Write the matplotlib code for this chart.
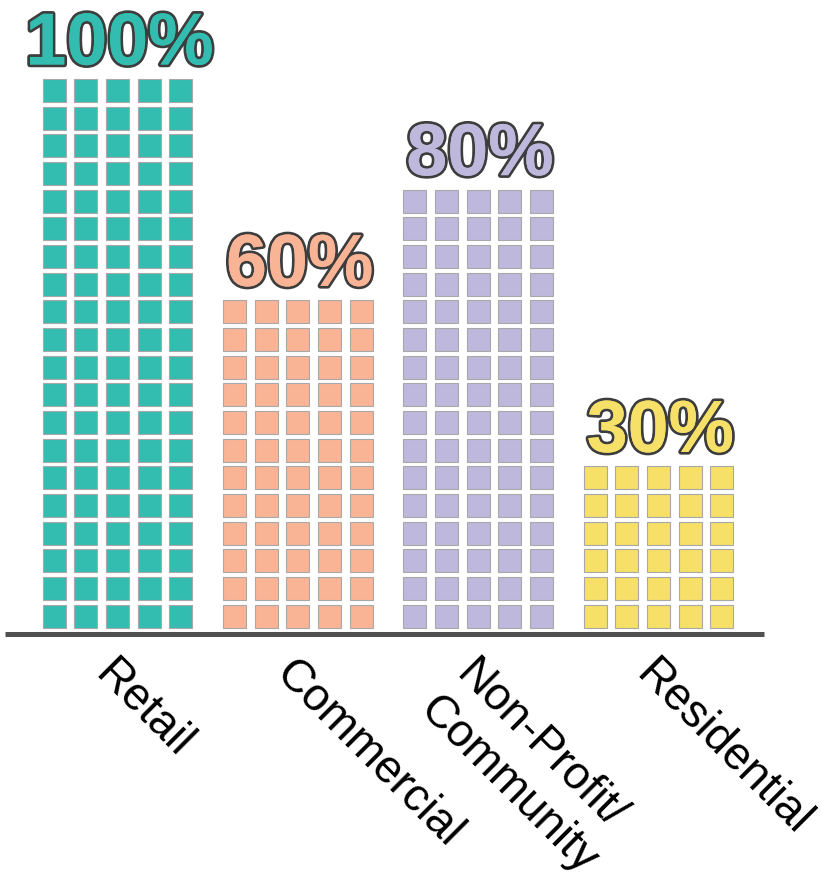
import matplotlib
matplotlib.use("Agg")
import matplotlib.pyplot as plt
import matplotlib.patheffects as pe

# ---- data ----
categories = ["Retail", "Commercial", "Non-Profit/\nCommunity", "Residential"]
percents = [100, 60, 80, 30]
pct_labels = ["100%", "60%", "80%", "30%"]
colors = ["#33BDB0", "#F9B395", "#BEB8DC", "#F6E068"]
step_pct = 5          # each row of squares = 5%
n_cols = 5            # squares per row

# ---- layout (pixel-based axes units, y upward) ----
W, H = 821, 886
x0 = 42.7             # left of first group
group_pitch = 180.3
col_pitch = 31.65
row_pitch = 27.67
sq = 23.0
bottom_y = H - 627.7  # bottom edge of lowest row
base_y = H - 634      # baseline

fig = plt.figure(figsize=(W / 100, H / 100), dpi=100)
ax = fig.add_axes([0, 0, 1, 1])
ax.set_xlim(0, W)
ax.set_ylim(0, H)
ax.axis("off")

plt.rcParams["font.family"] = ["Liberation Sans", "DejaVu Sans"]

for g, (cat, pct, lab, col) in enumerate(zip(categories, percents, pct_labels, colors)):
    n_rows = pct // step_pct
    gx = x0 + g * group_pitch
    xs, bs = [], []
    for r in range(n_rows):
        for c in range(n_cols):
            xs.append(gx + c * col_pitch)
            bs.append(bottom_y + r * row_pitch)
    ax.bar(xs, [sq] * len(xs), width=sq, bottom=bs, align="edge",
           color=col, edgecolor="#a8a8a8", linewidth=0.8, zorder=2)
    center = gx + ((n_cols - 1) * col_pitch + sq) / 2
    top = bottom_y + (n_rows - 1) * row_pitch + sq
    t = ax.text(center + 2, top + 14.5, lab, ha="center", va="baseline",
                fontsize=53, fontweight="bold", color=col,
                family=["Liberation Sans", "DejaVu Sans"], zorder=3)
    t.set_path_effects([pe.withStroke(linewidth=4.0, foreground="#3d3d3d"), pe.Normal()])
    ax.text(center, H - 652, cat, ha="left", va="top", rotation=-45,
            rotation_mode="anchor", fontsize=33, color="black",
            family=["Liberation Sans", "DejaVu Sans"], multialignment="left")

ax.plot([5, 764], [base_y, base_y], color="#505050", linewidth=3.6,
        solid_capstyle="butt", zorder=4)

fig.savefig("out.png", dpi=100)
